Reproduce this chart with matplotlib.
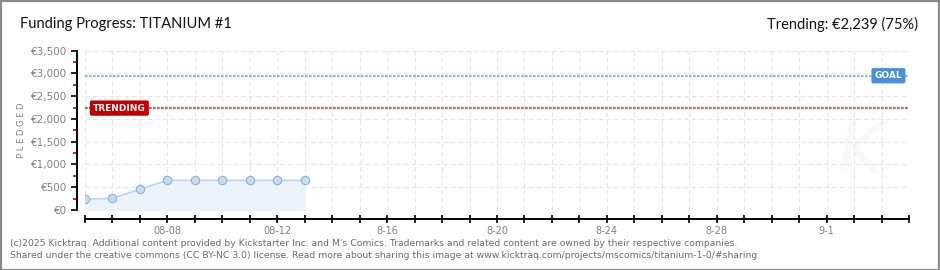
import numpy as np
import pandas as pd
import matplotlib
matplotlib.use('Agg')
import matplotlib.pyplot as plt
import matplotlib.patches as mpatches
from matplotlib.ticker import MultipleLocator, FixedLocator

W, H = 940, 270
DPI = 100

# campaign data
dates = ['2025-08-05', '2025-08-06', '2025-08-07', '2025-08-08', '2025-08-09',
         '2025-08-10', '2025-08-11', '2025-08-12', '2025-08-13']
pledged = [236, 258, 455, 652, 652, 652, 652, 652, 652]
start_date = '2025-08-05'
end_date = '2025-09-04'
goal = 2950
trending = 2239
tick_dates = ['2025-08-08', '2025-08-12', '2025-08-16', '2025-08-20',
              '2025-08-24', '2025-08-28', '2025-09-01']
tick_labels = ['08-08', '08-12', '8-16', '8-20', '8-24', '8-28', '9-1']
y_labels = ['€0', '€500', '€1,000', '€1,500', '€2,000', '€2,500', '€3,000', '€3,500']

t0 = pd.Timestamp(start_date)
days = [(pd.Timestamp(d) - t0).days for d in dates]
n_days = (pd.Timestamp(end_date) - t0).days
tick_pos = [(pd.Timestamp(d) - t0).days for d in tick_dates]

GRAY_TXT = '#808080'
BLUE = '#8cb9ea'
RED = '#d45a5a'

fig = plt.figure(figsize=(W / DPI, H / DPI), dpi=DPI, facecolor='white')

def px(x0, y0, x1, y1):
    return [x0 / W, 1 - y1 / H, (x1 - x0) / W, (y1 - y0) / H]

ax = fig.add_axes(px(85, 50.7, 909, 210))
ax.set_xlim(0, n_days)
ax.set_ylim(0, 3500)

for s in ['top', 'right']:
    ax.spines[s].set_visible(False)
ax.spines['left'].set_position(('outward', 6))
ax.spines['bottom'].set_position(('outward', 6.5))
ax.spines['left'].set_linewidth(1.4)
ax.spines['bottom'].set_linewidth(1.4)

# grid
ax.yaxis.set_major_locator(MultipleLocator(500))
ax.yaxis.set_minor_locator(FixedLocator(np.arange(250, 3500, 500)))
ax.grid(True, which='major', color='#e4e4e4', linestyle=(0, (4, 3)), linewidth=0.8)
ax.set_axisbelow(True)

ax.set_yticks(np.arange(0, 3501, 500))
ax.set_yticklabels(y_labels)
ax.tick_params(axis='y', which='major', direction='out', length=4, width=1.2,
               color='black', labelsize=7.5, labelcolor=GRAY_TXT, pad=3)
ax.tick_params(axis='y', which='minor', direction='out', length=3, width=1.2,
               color='#d00000')
ax.set_xticks(range(0, n_days + 1))
ax.set_xticklabels([tick_labels[tick_pos.index(i)] if i in tick_pos else ''
                    for i in range(0, n_days + 1)])
ax.tick_params(axis='x', direction='inout', length=6, width=1.2, color='black',
               labelsize=7, labelcolor=GRAY_TXT, pad=2)

# watermark
ax.text(n_days - 1.8, 1250, 'K', fontsize=50, fontstyle='italic',
        color='#f8f8f8', ha='center', va='center', zorder=0.5)

# goal / trending lines
ax.axhline(goal, color=BLUE, linewidth=1.6, linestyle=(0, (1.2, 0.6)), zorder=2)
ax.axhline(trending, color=RED, linewidth=1.6, linestyle=(0, (1.2, 0.6)), zorder=2)

ax.text(n_days - 0.75, goal, 'GOAL', fontsize=6.5, fontweight='bold', color='white',
        ha='center', va='center', zorder=4,
        bbox=dict(boxstyle='round,pad=0.35,rounding_size=0.2', fc='#4a8fdc', ec='none'))
ax.text(1.25, trending, 'TRENDING', fontsize=6.5, fontweight='bold', color='white',
        ha='center', va='center', zorder=4,
        bbox=dict(boxstyle='round,pad=0.35,rounding_size=0.2', fc='#c30000', ec='none'))

# pledged series
ax.fill_between(days, pledged, 0, color='#ebf3fc', zorder=1.5)
ax.plot(days, pledged, color='#b9d5f3', linewidth=1.2, zorder=3)
ax.plot(days, pledged, 'o', markersize=6, markerfacecolor='#c4dcf6',
        markeredgecolor='#8fb1d9', markeredgewidth=0.8, zorder=3.5)

# titles
fig.text(20 / W, 1 - 24 / H, 'Funding Progress: TITANIUM #1', fontsize=10.5,
         color='#111111', ha='left', va='center', family='Lato')
fig.text(918 / W, 1 - 24 / H, 'Trending: €2,239 (75%)', fontsize=10.5,
         color='#111111', ha='right', va='center', family='Lato')
fig.text(21 / W, 1 - 130 / H, 'P L E D G E D', fontsize=6, color=GRAY_TXT,
         rotation=90, ha='center', va='center')

# footer
fig.text(10 / W, 1 - 243 / H,
         "(c)2025 Kicktraq. Additional content provided by Kickstarter Inc. and M's Comics. "
         "Trademarks and related content are owned by their respective companies.",
         fontsize=6.7, color='#6a6a6a', ha='left', va='center')
fig.text(10 / W, 1 - 256 / H,
         "Shared under the creative commons (CC BY-NC 3.0) license. Read more about sharing "
         "this image at www.kicktraq.com/projects/mscomics/titanium-1-0/#sharing",
         fontsize=6.7, color='#6a6a6a', ha='left', va='center')

# frame border
fig.patches.append(mpatches.Rectangle((0.5 / W, 0.5 / H), 1 - 1.5 / W, 1 - 1.5 / H,
                                      transform=fig.transFigure, fill=False,
                                      edgecolor='#8a8a8a', linewidth=1.6))

fig.savefig('out.png', dpi=DPI, facecolor='white')
plt.close(fig)
